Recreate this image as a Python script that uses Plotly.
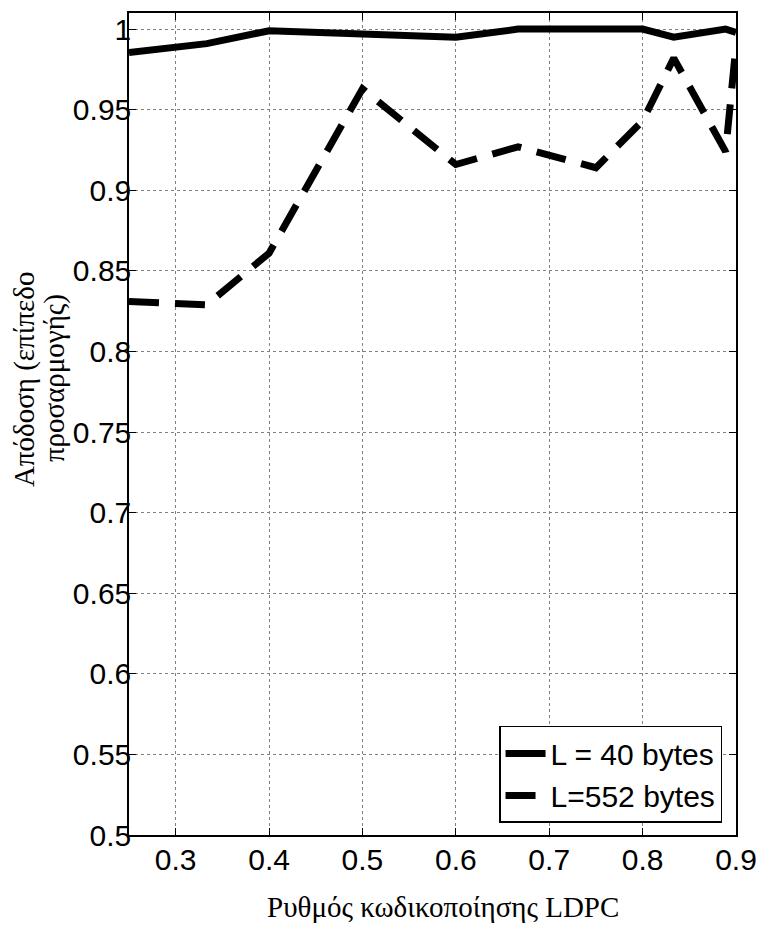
import plotly.graph_objects as go

code_rates = [1/4, 1/3, 2/5, 1/2, 3/5, 2/3, 3/4, 4/5, 5/6, 8/9, 9/10]
eff_40 = [0.9855, 0.991, 0.999, 0.997, 0.995, 1.0, 1.0, 1.0, 0.995, 1.0, 0.998]
eff_552 = [0.831, 0.829, 0.861, 0.963, 0.916, 0.927, 0.914, 0.943, 0.982, 0.924, 0.990]
x_ticks = [0.3, 0.4, 0.5, 0.6, 0.7, 0.8, 0.9]
y_ticks = [0.5, 0.55, 0.6, 0.65, 0.7, 0.75, 0.8, 0.85, 0.9, 0.95, 1.0]
y_ticktext = ["0.5", "0.55", "0.6", "0.65", "0.7", "0.75", "0.8", "0.85", "0.9", "0.95", "1"]

fig = go.Figure()
fig.add_trace(go.Scatter(x=code_rates, y=eff_40, mode="lines", name="L = 40 bytes",
                         line=dict(color="black", width=7)))
fig.add_trace(go.Scatter(x=code_rates, y=eff_552, mode="lines", name="L=552 bytes",
                         line=dict(color="black", width=7, dash="30px,16px")))

tickfont = dict(family="Liberation Sans, Arial", size=30, color="black")
serif = dict(family="Liberation Serif, Times New Roman", size=29, color="black")
fig.update_layout(
    width=768, height=928,
    margin=dict(l=129, r=28, t=11, b=93),
    paper_bgcolor="white", plot_bgcolor="white",
    showlegend=True,
    legend=dict(x=0.977, y=0.0146, xanchor="right", yanchor="bottom",
                bgcolor="white", bordercolor="black", borderwidth=1.5,
                font=dict(family="Liberation Sans, Arial", size=30, color="black"),
                tracegroupgap=0, itemwidth=40),
    xaxis=dict(range=[0.25, 0.9], tickvals=x_ticks, ticktext=[f"{v:.1f}" for v in x_ticks],
               ticks="inside", ticklen=7, tickcolor="black", tickwidth=1,
               showline=True, linecolor="black", linewidth=1.5, mirror="allticks",
               showgrid=True, gridcolor="#808080", gridwidth=1, griddash="dot",
               tickfont=tickfont, zeroline=False, ticklabelstandoff=-3),
    yaxis=dict(range=[0.5, 1.01], tickvals=y_ticks, ticktext=y_ticktext,
               ticks="inside", ticklen=7, tickcolor="black", tickwidth=1,
               showline=True, linecolor="black", linewidth=1.5, mirror="allticks",
               showgrid=True, gridcolor="#808080", gridwidth=1, griddash="dot",
               tickfont=tickfont, zeroline=False, ticklabelstandoff=-10),
    annotations=[
        dict(text="Ρυθμός κωδικοποίησης LDPC", xref="paper", yref="paper",
             x=(445 - 129) / 611, y=-(907 - 835) / 824, xanchor="center", yanchor="middle",
             showarrow=False, font=serif),
        dict(text="Απόδοση (επίπεδο", xref="paper", yref="paper",
             x=0, xshift=-(129 - 24), y=(835 - 378) / 824, xanchor="center", yanchor="middle",
             textangle=-90, showarrow=False, font=serif),
        dict(text="προσαρμογής)", xref="paper", yref="paper",
             x=0, xshift=-(129 - 54), y=(835 - 377) / 824, xanchor="center", yanchor="middle",
             textangle=-90, showarrow=False, font=serif),
    ],
)

fig.write_html("out.html")
